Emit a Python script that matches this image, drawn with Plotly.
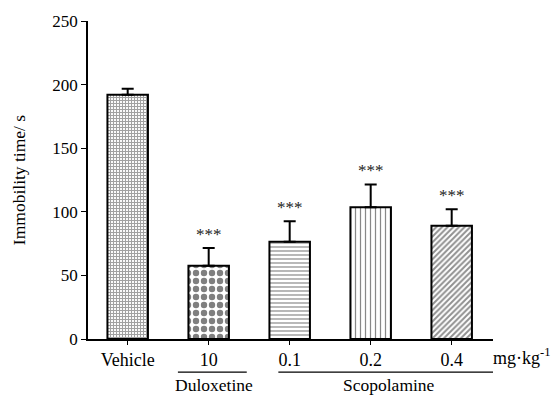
import plotly.graph_objects as go

categories = ["Vehicle", "10", "0.1", "0.2", "0.4"]
means = [192, 57.6, 76.5, 103.5, 89]
errors = [4.7, 14, 16, 18, 13]
sig = ["", "***", "***", "***", "***"]
group_names = ["Duloxetine", "Scopolamine"]
group_line_x = [(0.62, 1.47), (1.86, 4.78)]
group_label_x = [1.06, 3.22]
yticks = [0, 50, 100, 150, 200, 250]

shapes_p = ["+", ".", "-", "|", "/"]
pat_size = [3, 8, 4, 5, 4]
pat_sol = [0.6, 0.5, 0.3, 0.25, 0.5]
pat_fg = ["#444444", "#000000", "#111111", "#111111", "#222222"]

FONT = "Liberation Serif, Times New Roman, serif"

fig = go.Figure()
xs = list(range(len(categories)))
for i, c in enumerate(categories):
    fig.add_trace(go.Bar(
        x=[xs[i]], y=[means[i]], width=0.5,
        marker=dict(color="white", line=dict(color="black", width=2),
                    pattern=dict(shape=shapes_p[i], size=pat_size[i], solidity=pat_sol[i],
                                 fgcolor=pat_fg[i], bgcolor="white", fillmode="overlay")),
        error_y=dict(type="data", array=[errors[i]], arrayminus=[0], symmetric=False,
                     color="black", thickness=2, width=6),
        showlegend=False,
    ))

annotations = []
for i, s in enumerate(sig):
    if s:
        annotations.append(dict(x=xs[i], y=means[i] + errors[i], xref="x", yref="y",
                                text=s, showarrow=False, yanchor="bottom", yshift=2,
                                font=dict(family=FONT, size=17, color="#222222")))

shapes = []
for name, (xl, xr), lx in zip(group_names, group_line_x, group_label_x):
    shapes.append(dict(type="line", xref="x", yref="paper", x0=xl, x1=xr,
                       y0=-0.104, y1=-0.104, line=dict(color="black", width=1.2)))
    annotations.append(dict(x=lx, y=-0.146, xref="x", yref="paper",
                            text=name, showarrow=False, yanchor="middle",
                            font=dict(family=FONT, size=17.5, color="black")))

annotations.append(dict(x=0.995, y=-0.055, xref="paper", yref="paper",
                        text="mg·kg<sup>-1</sup>", showarrow=False, yanchor="middle",
                        xanchor="left",
                        font=dict(family=FONT, size=18, color="black")))

fig.update_layout(
    width=553, height=397,
    margin=dict(l=88, r=60, t=21, b=58),
    plot_bgcolor="white", paper_bgcolor="white",
    font=dict(family=FONT, size=18, color="black"),
    xaxis=dict(range=[-0.49, 4.51], tickmode="array", tickvals=xs, ticktext=categories,
               showline=True, linecolor="black", linewidth=1.5, ticks="outside",
               ticklen=4, tickcolor="black", showgrid=False, zeroline=False,
               tickfont=dict(family=FONT, size=18, color="black")),
    yaxis=dict(range=[0, 250], tickmode="array", tickvals=yticks,
               showline=True, linecolor="black", linewidth=1.5, ticks="outside",
               ticklen=5, tickcolor="black", showgrid=False, zeroline=False,
               tickfont=dict(family=FONT, size=17, color="black"),
               title=dict(text="Immobility time/ s", font=dict(family=FONT, size=17.5, color="black"),
                          standoff=22)),
    shapes=shapes,
    annotations=annotations,
)

fig.write_html("out.html")
